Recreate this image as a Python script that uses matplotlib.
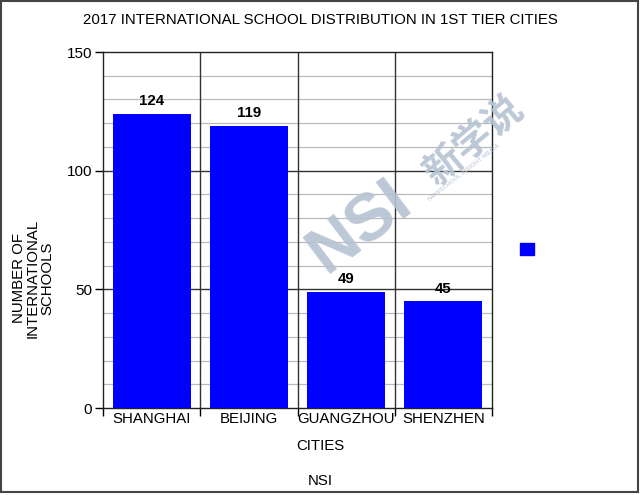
import numpy as np
import matplotlib.pyplot as plt
from matplotlib.patches import Patch, Rectangle

plt.rcParams['font.family'] = ['Liberation Sans', 'DejaVu Sans']

cities = ['SHANGHAI', 'BEIJING', 'GUANGZHOU', 'SHENZHEN']
schools = [124, 119, 49, 45]
title = '2017 INTERNATIONAL SCHOOL DISTRIBUTION IN 1ST TIER CITIES'

fig = plt.figure(figsize=(6.4, 4.95), dpi=100)
ax = fig.add_axes([103/640, 1-408/495, 389/640, 356/495])

x = np.arange(len(cities))
bars = ax.bar(x, schools, width=0.8, color='#0000ff', zorder=3)
for xi, v in zip(x, schools):
    ax.annotate(str(v), (xi, v), xytext=(0, 4), textcoords='offset points',
                ha='center', va='bottom', fontsize=10.8, fontweight='bold', zorder=4)

ax.set_xlim(-0.5, len(cities) - 0.5)
ax.set_ylim(0, 150)

# gray grid every 10, black every 50
for yv in range(10, 150, 10):
    if yv % 50:
        ax.axhline(yv, color='#bbbbbb', lw=0.9, zorder=1)
for yv in (50, 100):
    ax.axhline(yv, color='#333333', lw=1.0, zorder=2)
for xv in np.arange(0.5, len(cities) - 1, 1):
    ax.axvline(xv, color='#333333', lw=1.0, zorder=2)

for s in ax.spines.values():
    s.set_color('#222222')
    s.set_linewidth(1.0)

ax.set_yticks([0, 50, 100, 150])
ax.tick_params(axis='y', direction='out', length=6, width=1, labelsize=11, pad=2)
ax.set_xticks(np.arange(-0.5, len(cities), 1))
ax.set_xticklabels([])
ax.tick_params(axis='x', which='major', direction='out', length=6, width=1)
ax.set_xticks(x, minor=True)
ax.set_xticklabels(cities, minor=True, fontsize=10.8)
ax.tick_params(axis='x', which='minor', length=0, pad=3)

fig.text(0.5, 1-20/495, title, ha='center', va='center', fontsize=10.8)
fig.text(0.5, 1-446/495, 'CITIES', ha='center', va='center', fontsize=10.8)
fig.text(0.5, 1-481/495, 'NSI', ha='center', va='center', fontsize=10.8)
fig.text(33/640, 1-278/495, 'NUMBER OF\nINTERNATIONAL\nSCHOOLS', rotation=90,
         ha='center', va='center', fontsize=10.8, multialignment='center',
         linespacing=1.0)

fig.legend(handles=[Patch(color='#0000ff')], labels=[''], loc='center',
           bbox_to_anchor=(527/640, 1-250/495), frameon=False,
           handlelength=1.0, handleheight=1.0, handletextpad=0, fontsize=10)

# watermark
wm = '#b6c2d3'
fig.text(360/640, 1-228/495, 'NSI', rotation=37, ha='center', va='center',
         fontsize=48, fontweight='bold', color=wm, alpha=0.9, zorder=10)
fig.text(474/640, 1-140/495, '新学说', rotation=40, ha='center', va='center',
         fontsize=28, fontweight='bold', color=wm, alpha=0.9, zorder=10,
         family=['Noto Sans CJK SC', 'DejaVu Sans'])
fig.text(464/640, 1-172/495, 'NEWSCHOOL INSIGHT MEDIA', rotation=38, ha='center',
         va='center', fontsize=4.5, color=wm, zorder=10)

fig.patches.append(Rectangle((0.002, 0.006), 0.995, 0.991, transform=fig.transFigure,
                             fill=False, edgecolor='#444444', lw=1.5))

fig.savefig('out.png', dpi=100)
